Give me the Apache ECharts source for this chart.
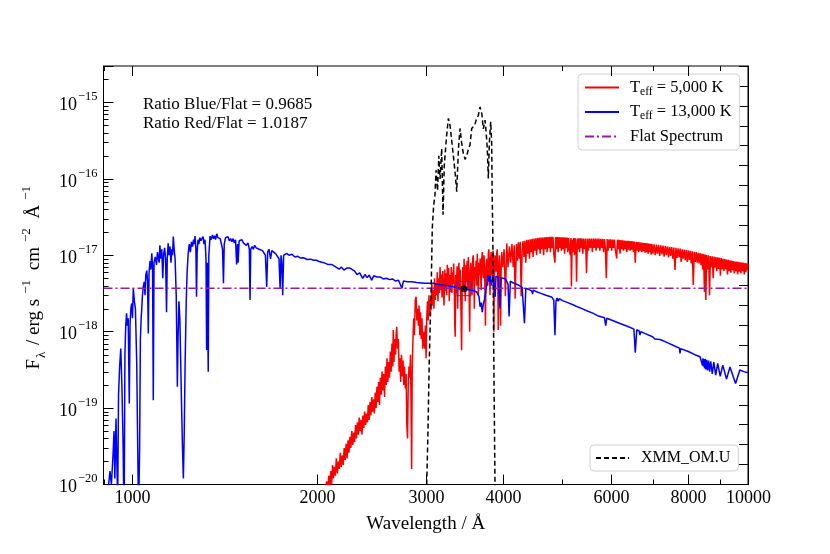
<!DOCTYPE html>
<html><head><meta charset="utf-8">
<script src="https://cdn.jsdelivr.net/npm/echarts@6/dist/echarts.min.js"></script>
<style>html,body{margin:0;padding:0;background:#fff}#c{width:830px;height:554px}</style>
</head><body><div id="c"></div>
<script>
// ---------- data ----------
const FLUX_UNIT = 1e-18;               // all flux arrays below are in units of 1e-18 erg/s/cm2/A
const X_MIN = 900, X_MAX = 10000;
const Y_MIN = 1e-20, Y_MAX = 3e-15;
const xMajorTicks = [1000, 2000, 3000, 4000, 6000, 8000, 10000];
const xTickLabels = ['1000', '2000', '3000', '4000', '6000', '8000', '10000'];
const xMinorTicks = [900, 5000, 7000, 9000];
const yDecades = [-20, -19, -18, -17, -16, -15];
const yMinorMantissas = [2, 3, 4, 5, 6, 7, 8, 9];
const flatLevel = 3.7;
const photPoint = [3461, 3.65];
const ratioTexts = ['Ratio Blue/Flat = 0.9685', 'Ratio Red/Flat = 1.0187'];

const blueSpectrum = [
[903,0.004],[915,0.008],[922,0.015],[927,0.01],[933,0.026],[936,0.05],[939,0.012],[943,0.073],[946,0.02],[949,0.006],
[952,0.15],[956,0.35],[960,0.6],[964,0.2],[968,0.04],[972,0.003],[975,0.5],[978,1.2],[981,1.74],[984,1.2],
[987,1.5],[991,0.115],[994,1.3],[997,2.0],[1000,2.34],[1003,1.5],[1006,3.69],[1010,2.5],[1014,2.0],[1019,0.385],
[1022,0.05],[1026,0.004],[1030,0.03],[1033,0.8],[1036,1.5],[1038,1.92],[1041,3.0],[1044,3.85],[1048,4.5],[1051,3.0],
[1054,5.5],[1058,6.3],[1061,4.5],[1064,0.95],[1067,6.0],[1071,8.4],[1074,6.5],[1078,10.6],[1081,7.0],[1084,0.127],
[1087,8.0],[1092,9.5],[1097,7.5],[1101,11.0],[1104,11.2],[1108,8.0],[1111,13.5],[1115,9.0],[1119,12.0],[1123,5.0],
[1127,10.5],[1131,12.5],[1135,9.0],[1139,1.8],[1142,9.0],[1146,14.3],[1150,10.0],[1154,13.0],[1158,8.0],[1162,12.0],
[1165,10.0],[1168,17.6],[1172,12.0],[1176,9.0],[1181,3.0],[1186,0.19],[1189,0.8],[1193,2.5],[1197,1.5],[1201,0.4],
[1205,0.1],[1209,0.03],[1213,0.012],[1217,0.05],[1221,0.4],[1226,2.5],[1230,6.0],[1235,10.6],[1240,14.0],[1245,11.0],
[1250,15.0],[1255,13.0],[1260,16.0],[1264,14.0],[1267,17.8],[1271,12.0],[1274,2.86],[1277,11.0],[1281,16.0],[1285,14.0],
[1290,17.0],[1295,15.5],[1300,16.5],[1306,17.6],[1310,14.0],[1315,16.0],[1320,9.0],[1323,0.575],[1326,8.0],[1331,0.30],
[1334,10.0],[1340,17.8],[1346,16.0],[1352,18.5],[1358,16.5],[1363,18.0],[1368,16.0],[1374,19.1],[1380,17.0],[1386,18.0],
[1392,16.5],[1398,17.5],[1404,12.0],[1409,4.3],[1413,14.0],[1420,17.0],[1426,16.5],[1433,17.5],[1440,15.5],[1447,16.5],
[1454,15.0],[1461,16.5],[1467,14.5],[1474,16.0],[1480,7.6],[1485,14.0],[1488,8.0],[1494,15.5],[1502,15.0],[1510,16.0],
[1518,14.5],[1526,15.0],[1535,13.5],[1544,14.5],[1552,12.0],[1556,2.6],[1560,12.0],[1568,13.0],[1575,12.0],[1583,13.5],
[1592,12.5],[1600,13.0],[1610,12.0],[1620,12.5],[1630,11.5],[1640,12.0],[1648,10.0],[1656,3.85],[1662,11.0],[1670,12.0],
[1680,9.0],[1688,11.5],[1700,11.0],[1712,10.5],[1724,11.0],[1734,9.0],[1741,3.7],[1747,10.0],[1752,8.0],[1758,3.0],
[1764,10.0],[1775,10.5],[1784,10.6],[1800,10.0],[1820,10.3],[1840,9.5],[1860,9.7],[1880,9.2],[1900,9.3],[1925,8.8],
[1950,8.9],[1975,8.6],[1995,8.6],[2020,8.2],[2050,8.0],[2080,7.6],[2110,7.6],[2140,7.1],[2170,6.6],[2190,7.0],
[2210,6.4],[2233,6.8],[2261,6.8],[2300,6.2],[2320,5.6],[2344,5.9],[2370,5.0],[2390,5.6],[2410,5.1],[2430,5.5],
[2450,4.7],[2470,5.4],[2500,5.2],[2529,5.2],[2560,4.9],[2590,5.0],[2620,4.8],[2650,4.9],[2680,4.6],[2710,4.7],
[2744,3.7],[2760,4.6],[2800,4.5],[2850,4.5],[2900,4.4],[2950,4.35],[3000,4.3],[3086,4.29],[3150,4.15],[3250,4.0],
[3369,3.8],[3450,3.65],[3520,3.55],[3580,3.45],[3630,3.3],[3660,2.9],[3675,2.12],[3690,2.4],[3705,1.8],[3720,2.3],
[3735,2.6],[3750,3.2],[3770,4.2],[3790,5.5],[3800,4.5],[3815,5.4],[3835,4.0],[3857,5.5],[3880,5.3],[3889,2.86],
[3900,5.3],[3930,5.2],[3945,5.0],[3960,2.02],[3975,5.1],[4000,5.0],[4040,4.9],[4080,4.2],[4096,1.58],[4115,4.6],
[4150,4.4],[4200,4.2],[4250,4.05],[4300,3.8],[4338,1.29],[4360,3.7],[4400,3.6],[4460,3.4],[4471,3.1],[4484,3.5],
[4550,3.3],[4600,3.2],[4700,3.0],[4800,2.85],[4840,2.6],[4861,0.9],[4880,2.5],[4900,2.75],[4921,2.5],[4940,2.7],
[5000,2.55],[5100,2.4],[5200,2.25],[5300,2.1],[5400,1.97],[5500,1.85],[5600,1.75],[5700,1.62],[5850,1.52],[5876,1.2],
[5900,1.5],[6000,1.42],[6200,1.28],[6400,1.16],[6530,1.08],[6563,0.53],[6600,1.06],[6660,1.02],[6678,0.9],[6700,1.0],
[6800,0.95],[7000,0.86],[7065,0.8],[7100,0.84],[7200,0.79],[7400,0.72],[7600,0.65],[7740,0.61],[7757,0.52],[7775,0.6],
[8000,0.55],[8200,0.5],[8359,0.47],[8400,0.46],[8438,0.36],[8450,0.45],[8467,0.35],[8485,0.44],[8502,0.33],[8520,0.44],
[8545,0.32],[8570,0.43],[8598,0.31],[8630,0.42],[8665,0.30],[8700,0.41],[8750,0.28],[8800,0.40],[8863,0.27],[8930,0.385],
[9015,0.26],[9100,0.365],[9229,0.24],[9350,0.345],[9546,0.21],[9700,0.315],[9850,0.30],[10000,0.29]
];

const redSpectrum = [
[2040,0.004],[2060,0.008],[2072,0.011],[2080,0.008],[2088,0.013],[2095,0.009],[2103,0.015],[2110,0.010],[2118,0.018],[2125,0.012],
[2133,0.017],[2140,0.013],[2148,0.022],[2156,0.014],[2164,0.02],[2172,0.016],[2180,0.026],[2188,0.017],[2196,0.024],[2204,0.018],
[2212,0.03],[2220,0.021],[2228,0.034],[2236,0.022],[2244,0.038],[2252,0.026],[2260,0.042],[2268,0.03],[2276,0.05],[2284,0.033],
[2292,0.048],[2300,0.036],[2308,0.06],[2316,0.04],[2324,0.065],[2332,0.045],[2340,0.075],[2348,0.05],[2356,0.07],[2364,0.045],
[2372,0.08],[2380,0.055],[2388,0.09],[2396,0.06],[2404,0.085],[2412,0.065],[2420,0.11],[2428,0.07],[2436,0.12],[2444,0.08],
[2452,0.14],[2460,0.09],[2468,0.13],[2476,0.085],[2484,0.16],[2492,0.1],[2500,0.19],[2508,0.12],[2516,0.22],[2524,0.11],
[2532,0.25],[2540,0.15],[2548,0.3],[2556,0.17],[2564,0.28],[2572,0.14],[2580,0.35],[2588,0.2],[2596,0.45],[2604,0.22],
[2612,0.4],[2620,0.25],[2628,0.55],[2636,0.3],[2644,0.7],[2652,0.35],[2657,1.05],[2664,0.4],[2672,0.8],[2680,0.5],
[2686,0.95],[2692,1.16],[2700,0.6],[2708,0.8],[2716,0.3],[2724,0.45],[2732,0.22],[2740,0.5],[2748,0.26],[2756,0.42],
[2764,0.2],[2772,0.35],[2780,0.18],[2788,0.28],[2795,0.06],[2803,0.04],[2810,0.2],[2818,0.35],[2826,0.25],[2834,0.5],
[2840,0.1],[2846,0.016],[2852,0.3],[2860,0.8],[2868,1.5],[2876,0.9],[2885,2.6],[2894,2.86],[2902,1.4],[2910,2.0],
[2918,1.2],[2926,2.2],[2934,0.9],[2942,1.8],[2950,0.8],[2958,1.5],[2966,0.6],[2972,0.57],[2980,1.0],[2988,0.6],
[2996,1.2],[3004,0.45],[3012,1.6],[3020,2.5],[3028,1.4],[3036,3.0],[3044,1.6],[3052,2.6],[3060,1.9],[3069,4.3],
[3077,2.2],[3085,3.5],[3093,2.0],[3100,5.0],[3108,2.6],[3116,4.2],[3124,3.0],[3132,6.0],[3140,2.5],[3148,5.0],
[3156,3.2],[3165,7.0],[3172,3.5],[3180,5.6],[3188,2.8],[3196,6.2],[3204,3.6],[3212,2.2],[3220,6.5],[3228,3.4],
[3236,5.8],[3244,3.0],[3252,7.5],[3260,4.0],[3268,6.8],[3276,2.5],[3284,5.5],[3292,3.3],[3300,7.0],[3308,3.2],
[3316,6.0],[3324,4.2],[3330,7.8],[3338,3.5],[3344,1.2],[3349,0.86],[3356,5.5],[3364,3.2],[3372,7.2],[3380,2.0],
[3388,6.0],[3396,8.0],[3404,3.5],[3412,6.5],[3420,2.5],[3430,0.57],[3438,4.0],[3446,7.0],[3454,3.6],[3462,9.0],
[3470,4.0],[3478,2.5],[3486,7.5],[3494,4.5],[3502,8.5],[3510,3.5],[3518,9.5],[3526,4.5],[3535,1.0],[3543,6.0],
[3551,8.0],[3559,4.0],[3567,3.0],[3575,9.0],[3583,10.0],[3591,4.5],[3597,2.0],[3605,7.0],[3613,5.0],[3621,8.5],
[3629,4.0],[3637,10.5],[3645,5.0],[3652,3.0],[3660,8.0],[3668,5.5],[3676,9.1],[3684,5.0],[3690,3.5],[3698,9.0],
[3706,11.0],[3714,6.0],[3722,5.0],[3730,10.0],[3738,6.5],[3745,2.5],[3750,1.2],[3758,7.0],[3766,9.0],[3774,5.0],
[3782,4.0],[3790,10.5],[3798,12.0],[3806,6.0],[3814,3.0],[3822,9.0],[3830,11.0],[3838,6.0],[3846,5.0],[3852,10.0],
[3858,11.5],[3864,6.0],[3870,1.0],[3878,7.0],[3886,10.0],[3894,7.5],[3902,6.0],[3910,10.5],[3918,12.0],[3926,6.0],
[3933,1.05],[3942,7.0],[3950,10.0],[3958,5.0],[3968,1.2],[3976,7.0],[3985,11.0],[3992,8.0],[4000,7.0],[4020,12.0],
[4040,2.9],[4060,14.3],[4080,7.0],[4100,13.0],[4120,8.0],[4140,14.0],[4160,7.0],[4175,13.5],[4190,2.7],[4210,14.0],
[4225,8.5],[4240,14.8],[4255,9.0],[4270,15.0],[4285,2.9],[4300,11.0],[4315,15.3],[4330,9.5],[4345,15.5],[4360,8.0],
[4375,16.0],[4390,10.5],[4405,16.0],[4420,9.0],[4435,16.2],[4450,11.0],[4465,16.4],[4480,9.5],[4495,16.5],[4510,11.5],
[4525,16.7],[4540,10.0],[4555,16.8],[4570,12.0],[4585,17.0],[4600,10.5],[4615,17.0],[4630,12.0],[4645,17.1],[4660,10.0],
[4675,17.2],[4690,12.0],[4705,17.3],[4720,11.0],[4735,17.3],[4750,12.5],[4765,17.4],[4780,11.0],[4795,17.4],[4810,12.5],
[4825,17.4],[4840,10.5],[4861,8.0],[4875,17.3],[4890,12.0],[4905,17.3],[4920,11.0],[4935,17.3],[4950,12.5],[4965,17.2],
[4980,11.5],[4995,17.2],[5010,12.0],[5025,17.2],[5040,10.5],[5055,17.1],[5070,12.5],[5085,17.0],[5100,11.0],[5115,16.9],
[5130,12.0],[5145,10.0],[5160,16.8],[5170,3.9],[5185,16.0],[5200,11.0],[5215,16.8],[5230,10.0],[5245,16.7],[5260,12.0],
[5270,4.5],[5285,16.6],[5300,12.0],[5315,16.7],[5330,11.0],[5345,16.7],[5360,12.5],[5375,16.6],[5395,10.5],[5410,16.6],
[5430,12.0],[5450,16.6],[5470,5.8],[5490,16.6],[5510,11.5],[5530,16.6],[5550,12.5],[5570,16.6],[5590,11.0],[5610,16.6],
[5630,12.5],[5650,16.5],[5670,11.5],[5690,16.5],[5710,12.5],[5730,16.5],[5750,11.5],[5770,16.4],[5790,12.5],[5810,16.4],
[5830,11.0],[5850,16.3],[5870,12.0],[5890,5.0],[5910,16.3],[5930,11.5],[5950,16.2],[5970,12.5],[5990,16.2],[6010,11.5],
[6030,16.1],[6050,12.5],[6070,16.1],[6090,12.0],[6123,9.1],[6140,16.0],[6160,12.0],[6180,15.9],[6200,10.5],[6220,15.8],
[6240,12.0],[6260,15.7],[6280,11.5],[6300,15.6],[6320,12.0],[6340,15.5],[6360,11.0],[6380,15.5],[6400,11.8],[6420,15.4],
[6440,11.5],[6460,15.3],[6480,11.8],[6500,15.2],[6520,11.0],[6540,15.1],[6563,8.0],[6585,15.0],[6605,11.5],[6625,14.9],
[6645,11.0],[6665,14.8],[6685,11.5],[6705,14.7],[6725,11.0],[6745,14.6],[6765,11.3],[6785,14.5],[6805,10.8],[6825,14.4],
[6845,11.0],[6865,14.3],[6885,10.5],[6905,14.2],[6925,11.0],[6945,14.1],[6965,10.2],[6985,14.0],[7010,10.5],[7040,13.9],
[7070,10.0],[7100,13.8],[7130,10.5],[7160,13.7],[7190,9.8],[7220,13.5],[7250,10.3],[7280,13.4],[7310,9.6],[7340,13.2],
[7370,10.0],[7400,13.0],[7430,9.4],[7460,12.9],[7490,9.8],[7520,12.8],[7550,9.0],[7580,12.6],[7614,6.4],[7640,12.5],
[7670,9.2],[7700,12.3],[7730,9.4],[7760,12.2],[7790,8.2],[7820,12.0],[7850,9.0],[7880,11.9],[7910,8.6],[7940,11.7],
[7970,8.2],[8000,11.6],[8030,8.7],[8060,11.4],[8090,7.8],[8120,11.3],[8151,4.1],[8180,11.1],[8210,8.2],[8240,11.0],
[8270,8.0],[8300,10.8],[8330,7.8],[8360,10.7],[8390,7.4],[8420,10.5],[8440,6.5],[8470,10.4],[8498,3.3],[8520,10.2],
[8542,2.6],[8570,10.1],[8600,6.5],[8630,10.0],[8662,3.0],[8690,9.8],[8720,7.0],[8750,9.7],[8780,5.0],[8810,9.6],
[8840,6.9],[8870,9.5],[8900,6.2],[8930,9.4],[8960,6.6],[8990,9.3],[9020,5.4],[9050,9.2],[9080,6.6],[9110,9.0],
[9140,6.2],[9170,8.9],[9200,6.6],[9230,8.8],[9260,5.6],[9290,8.7],[9320,6.2],[9350,8.6],[9380,5.9],[9410,8.5],
[9440,6.4],[9470,8.4],[9500,5.8],[9530,8.3],[9560,6.2],[9590,8.3],[9620,5.6],[9650,8.2],[9680,6.1],[9710,8.1],
[9740,5.8],[9770,8.0],[9800,6.2],[9830,8.0],[9860,5.6],[9890,7.9],[9920,6.0],[9950,7.85],[9980,6.4],[10000,7.8]
];

const filterCurve = [
[2990,0.003],[3011,0.01],[3025,0.05],[3039,0.385],[3050,1.2],[3062,3.87],[3074,22.5],[3090,45],[3105,61],[3118,130],
[3135,70],[3150,200],[3165,100],[3184,250],[3200,34],[3215,150],[3244,373],[3264,620],[3285,500],[3306,480],
[3326,200],[3347,124],[3368,68],[3390,250],[3410,457],[3430,300],[3452,215],[3475,180],[3496,200],[3520,250],
[3539,276],[3562,457],[3600,500],[3625,600],[3651,680],[3675,875],[3700,700],[3720,450],[3744,586],[3760,400],
[3775,250],[3790,101],[3805,300],[3824,560],[3838,300],[3845,60],[3853,22.5],[3861,3],[3875,0.1],[3886,0.01],[3900,0.002]
];

// ---------- build ----------
const FONT = '"Liberation Serif","Times New Roman","DejaVu Serif",serif';
const toXY = arr => arr.map(p => [p[0], p[1] * FLUX_UNIT]);
const names = {
  red: 'Teff = 5,000 K',
  blue: 'Teff = 13,000 K',
  flat: 'Flat Spectrum',
  filt: 'XMM_OM.U'
};
const legendRich = {
  [names.red]: '{m|T}{e|eff}{m| = 5,000 K}',
  [names.blue]: '{m|T}{e|eff}{m| = 13,000 K}',
  [names.flat]: '{m|Flat Spectrum}',
  [names.filt]: '{m|XMM_OM.U}'
};
const yMinorTicks = [];
yDecades.forEach(d => yMinorMantissas.forEach(m => {
  const v = m * Math.pow(10, d);
  if (v <= Y_MAX * 1.0001) yMinorTicks.push(v);
}));

function renderDecor(params, api) {
  const children = [];
  const p0 = api.coord([X_MIN, Y_MIN]);
  const p1 = api.coord([X_MAX, Y_MAX]);
  const yb = p0[1], yt = p1[1], xl = p0[0];
  const seg = (x1, y1, x2, y2) => ({type: 'line', silent: true,
    shape: {x1: x1, y1: y1, x2: x2, y2: y2}, style: {stroke: '#000', lineWidth: 1}});
  xMajorTicks.forEach((v, i) => {
    const x = Math.round(api.coord([v, Y_MIN])[0]) + 0.5;
    children.push(seg(x, yb, x, yb - 10));
    children.push(seg(x, yt, x, yt + 10));
    children.push({type: 'text', silent: true, x: x, y: yb + 5,
      style: {text: xTickLabels[i], fill: '#000', font: '18px ' + FONT, align: 'center', verticalAlign: 'top'}});
  });
  xMinorTicks.forEach(v => {
    const x = Math.round(api.coord([v, Y_MIN])[0]) + 0.5;
    children.push(seg(x, yb, x, yb - 5));
    children.push(seg(x, yt, x, yt + 5));
  });
  yMinorTicks.forEach(v => {
    const y = Math.round(api.coord([X_MIN, v])[1]) + 0.5;
    children.push(seg(xl, y, xl + 5, y));
  });
  return {type: 'group', children: children};
}

const legendCommon = {
  orient: 'vertical', itemWidth: 34, itemHeight: 14,
  backgroundColor: 'rgba(255,255,255,0.85)', borderColor: '#d0d0d0', borderWidth: 1, borderRadius: 4,
  itemStyle: {color: 'rgba(0,0,0,0)', borderColor: 'rgba(0,0,0,0)', borderWidth: 0, opacity: 0},
  formatter: n => legendRich[n]
};

const chart = echarts.init(document.getElementById('c'), null, {renderer: 'canvas'});
const option = {
  animation: false,
  backgroundColor: '#fff',
  textStyle: {fontFamily: FONT},
  grid: {left: 103.5, right: 82, top: 66, bottom: 69.5, show: true, borderColor: '#000', borderWidth: 1, containLabel: false},
  xAxis: {
    type: 'log', logBase: 10, min: X_MIN, max: X_MAX,
    axisLine: {show: true, lineStyle: {color: '#000', width: 1}},
    axisTick: {show: false}, axisLabel: {show: false}, splitLine: {show: false},
    name: 'Wavelength / Å', nameLocation: 'middle', nameGap: 30,
    nameTextStyle: {fontFamily: FONT, fontSize: 19, color: '#000'}
  },
  yAxis: [{
    type: 'log', logBase: 10, min: Y_MIN, max: Y_MAX,
    axisLine: {show: true, lineStyle: {color: '#000', width: 1}},
    axisTick: {show: true, inside: true, length: 10, lineStyle: {color: '#000', width: 1}},
    splitLine: {show: false},
    axisLabel: {
      margin: 6, color: '#000',
      formatter: function (v) {
        const l = Math.log10(v), e = Math.round(l);
        if (Math.abs(l - e) > 1e-6) return '';
        return '{b|10}{s|' + (e < 0 ? '\u2212' + (-e) : e) + '}';
      },
      rich: {
        b: {fontFamily: FONT, fontSize: 18, color: '#000', lineHeight: 24, verticalAlign: 'bottom'},
        s: {fontFamily: FONT, fontSize: 12.5, color: '#000', verticalAlign: 'top', padding: [0, 0, 0, 1]}
      }
    },
    name: '{n|F}{sb|λ}{n| / erg s}{sp|\u22121}{n| cm}{sp|\u22122}{n| Å}{sp|\u22121}',
    nameLocation: 'middle', nameGap: 51, nameRotate: 90,
    nameTextStyle: {
      color: '#000',
      rich: {
        n: {fontFamily: FONT, fontSize: 19, color: '#000', lineHeight: 28, verticalAlign: 'middle'},
        sb: {fontFamily: FONT, fontSize: 13, color: '#000', verticalAlign: 'bottom', padding: [0, 2, 0, 1]},
        sp: {fontFamily: FONT, fontSize: 13, color: '#000', verticalAlign: 'top', padding: [0, 5, 0, 5]}
      }
    }
  }, {
    type: 'value', position: 'right', min: 0, max: 1.05, interval: 0.05,
    axisLine: {show: true, lineStyle: {color: '#000', width: 1}},
    axisTick: {show: true, inside: true, length: 9, lineStyle: {color: '#000', width: 1}},
    axisLabel: {show: false}, splitLine: {show: false}
  }],
  legend: [Object.assign({}, legendCommon, {
    data: [names.red, names.blue, names.flat],
    left: 578, top: 74, itemGap: 6,
    padding: [5, 8, 5, 6],
    textStyle: {
      color: '#000', padding: [0, 0, 0, 6],
      rich: {
        m: {fontFamily: FONT, fontSize: 16.5, color: '#000', lineHeight: 20},
        e: {fontFamily: FONT, fontSize: 11.5, color: '#000', verticalAlign: 'bottom'}
      }
    }
  }), Object.assign({}, legendCommon, {
    data: [names.filt],
    left: 590, top: 445,
    itemWidth: 33,
    padding: [5, 8, 5, 5],
    textStyle: {
      color: '#000', padding: [0, 0, 0, 7],
      rich: {m: {fontFamily: FONT, fontSize: 16, color: '#000', lineHeight: 20}}
    }
  })],
  graphic: [
    {type: 'text', left: 143, top: 96, silent: true, style: {text: ratioTexts[0], font: '17px ' + FONT, fill: '#000'}},
    {type: 'text', left: 143, top: 115, silent: true, style: {text: ratioTexts[1], font: '17px ' + FONT, fill: '#000'}}
  ],
  series: [
    {name: names.red, type: 'line', data: toXY(redSpectrum), symbol: 'none', showSymbol: false,
     lineStyle: {color: '#ff0000', width: 1.5}, itemStyle: {color: '#ff0000'}, z: 2, clip: true, silent: true},
    {name: names.blue, type: 'line', data: toXY(blueSpectrum), symbol: 'none', showSymbol: false,
     lineStyle: {color: '#0000ff', width: 1.5}, itemStyle: {color: '#0000ff'}, z: 3, clip: true, silent: true},
    {name: names.flat, type: 'line', data: [[X_MIN, flatLevel * FLUX_UNIT], [X_MAX, flatLevel * FLUX_UNIT]],
     symbol: 'none', showSymbol: false,
     lineStyle: {color: '#92209a', width: 1.5, type: [9, 3, 2, 3]}, itemStyle: {color: '#92209a'}, z: 4, clip: true, silent: true},
    {name: names.filt, type: 'line', data: toXY(filterCurve), symbol: 'none', showSymbol: false,
     lineStyle: {color: '#000', width: 1.5, type: [5, 3]}, itemStyle: {color: '#000'}, z: 5, clip: true, silent: true},
    {name: 'photSquare', type: 'scatter', data: [[photPoint[0], photPoint[1] * FLUX_UNIT]], symbol: 'rect', symbolSize: 14,
     itemStyle: {color: 'rgba(0,0,0,0)', borderColor: '#3030c8', borderWidth: 1.2}, z: 6, silent: true},
    {name: 'photDot', type: 'scatter', data: [[photPoint[0], photPoint[1] * FLUX_UNIT]], symbol: 'circle', symbolSize: 7,
     itemStyle: {color: '#000'}, z: 7, silent: true},
    {name: 'decor', type: 'custom', data: [[X_MIN, Y_MIN]], renderItem: renderDecor, clip: false, silent: true, z: 8}
  ]
};
chart.setOption(option);
</script>
</body></html>
